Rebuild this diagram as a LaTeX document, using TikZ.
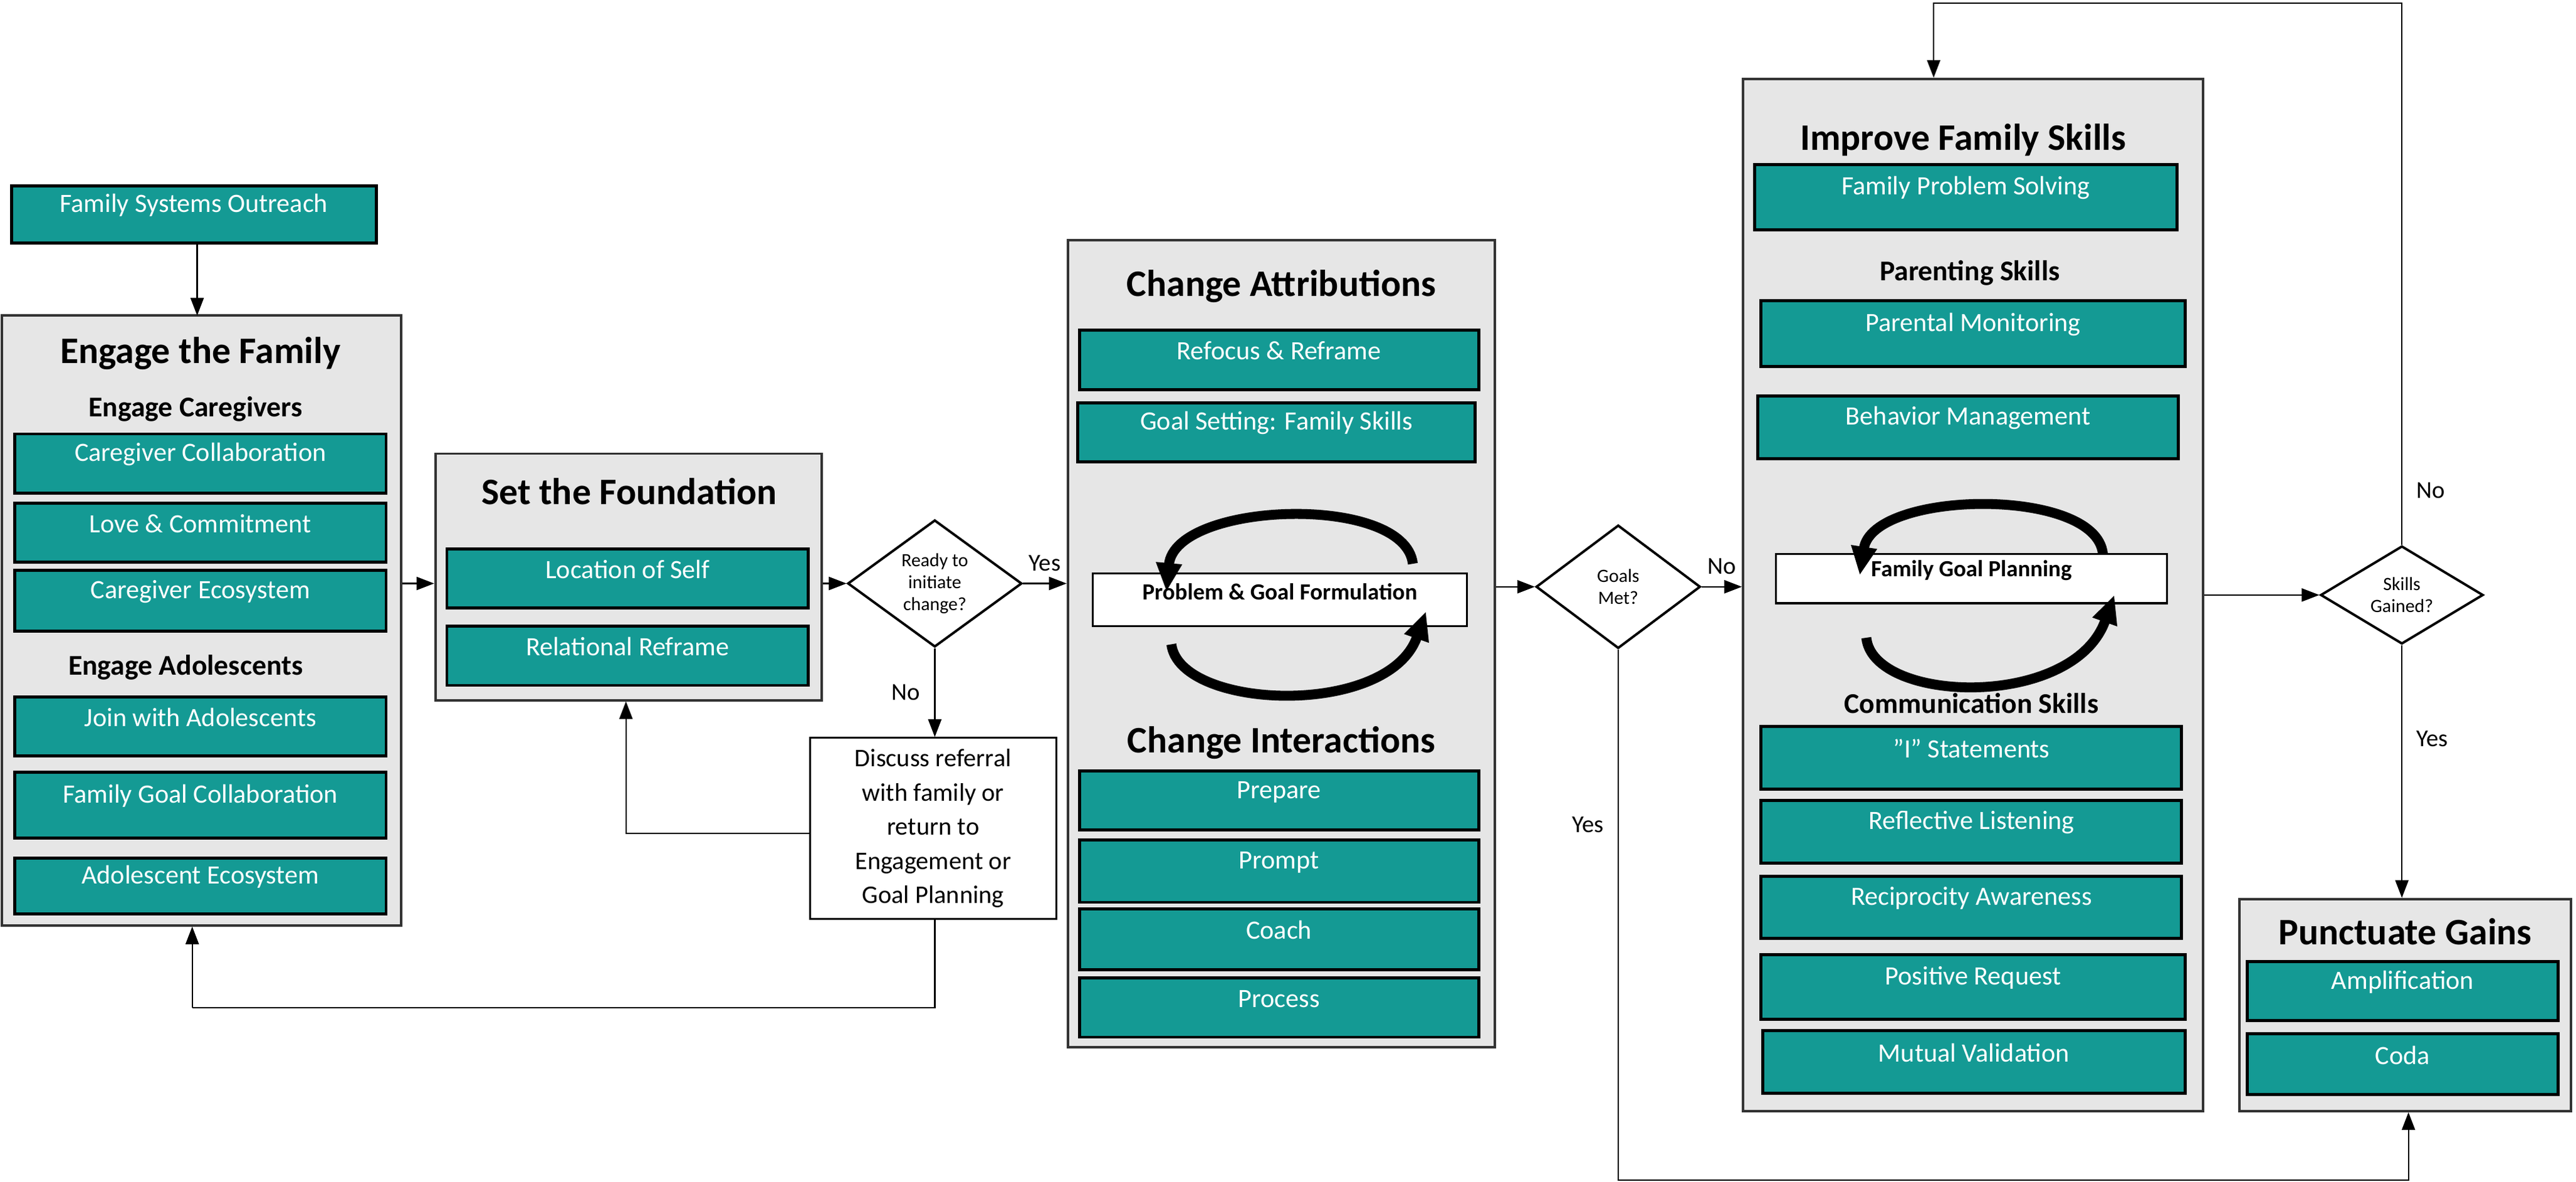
\documentclass[tikz,border=0pt]{standalone}
\usepackage{fontspec}
\setmainfont{Carlito}
\usetikzlibrary{fit,shapes.geometric,arrows.meta}
\definecolor{teal1}{HTML}{149A94}
\definecolor{grey1}{HTML}{E6E6E6}
\newcommand\mkbox[7][tb]{\coordinate (#2a) at (#3,#4); \coordinate (#2b) at (#5,#6);
  \node[#1,fit=(#2a)(#2b)] (#2) {#7};}
\begin{document}
\begin{tikzpicture}[x=0.02621cm,y=-0.02621cm,
  tb/.style={draw=black,line width=1.4pt,fill=teal1,text=white,inner sep=0pt,font=\fontsize{12}{14}\selectfont},
  gb/.style={draw=black!80,line width=1.1pt,fill=grey1,inner sep=0pt},
  wb/.style={draw=black,line width=0.9pt,fill=white,inner sep=0pt,font=\bfseries\fontsize{10.5}{12}\selectfont},
  title/.style={font=\bfseries\fontsize{17}{20}\selectfont},
  sub/.style={font=\bfseries\fontsize{13}{15}\selectfont},
  dia/.style={diamond,draw=black,line width=1.1pt,fill=white,inner sep=0pt,align=center,font=\fontsize{8.5}{10}\selectfont},
  lab/.style={font=\fontsize{11}{13}\selectfont},
  arr/.style={-{Triangle[length=8pt,width=6pt]},line width=0.6pt},
  ln/.style={line width=0.6pt},
  cyc/.style={line width=4.5pt,-{Triangle[length=13pt,width=11pt]}}]
\useasboundingbox (0,0) rectangle (1568,719);
% Outreach
\mkbox{fso}{7}{113}{229}{148}{Family Systems Outreach}
% Engage
\mkbox[gb]{eng}{1}{192}{244}{563}{}
\node[title] (engT) at (122,215) {Engage the Family};
\node[sub] (engC) at (119,249) {Engage Caregivers};
\mkbox{cc}{9}{264}{235}{300}{Caregiver Collaboration}
\mkbox{lc}{9}{306}{235}{342}{Love \& Commitment}
\mkbox{ce}{9}{347}{235}{384}{Caregiver Ecosystem}
\node[sub] (engA) at (113,406) {Engage Adolescents};
\mkbox{ja}{9}{424}{235}{460}{Join with Adolescents}
\mkbox{fgc}{9}{470}{235}{510}{Family Goal Collaboration}
\mkbox{ae}{9}{522}{235}{556}{Adolescent Ecosystem}
% Foundation
\mkbox[gb]{fnd}{265}{276}{500}{426}{}
\node[title] (fndT) at (383,299) {Set the Foundation};
\mkbox{los}{272}{334}{492}{370}{Location of Self}
\mkbox{rr}{272}{381}{492}{417}{Relational Reframe}
% Ready diamond
\node[dia,minimum width=106*0.02621cm,minimum height=74*0.02621cm] (rdy) at (569,355) {Ready to\\initiate\\change?};
% Discuss
\mkbox[wb]{dis}{493}{449}{643}{559}{}
\node[align=center,font=\fontsize{11.5}{15.5}\selectfont] at (dis.center) {Discuss referral\\with family or\\return to\\Engagement or\\Goal Planning};
% Change box
\mkbox[gb]{chg}{650}{146}{910}{637}{}
\node[title] (chgT) at (780,174) {Change Attributions};
\mkbox{rf}{657}{201}{900}{237}{Refocus \& Reframe}
\mkbox{gs}{656}{245}{898}{281}{Goal Setting: Family Skills}
\mkbox[wb]{pgf}{665}{349}{893}{381}{Problem \& Goal Formulation}
\draw[cyc] (860,343) .. controls (855,300) and (715,305) .. (710,360);
\draw[cyc] (713,392) .. controls (718,432) and (845,437) .. (868,372);
\node[title] (chgI) at (780,452) {Change Interactions};
\mkbox{pr}{657}{469}{900}{505}{Prepare}
\mkbox{pm}{657}{511}{900}{549}{Prompt}
\mkbox{co}{657}{553}{900}{590}{Coach}
\mkbox{pc}{657}{595}{900}{631}{Process}
% Goals met
\node[dia,minimum width=100*0.02621cm,minimum height=75*0.02621cm] (gm) at (985,357) {Goals\\Met?};
% Improve
\mkbox[gb]{imp}{1061}{48}{1341}{676}{}
\node[title] (impT) at (1195,85) {Improve Family Skills};
\mkbox{fps}{1068}{100}{1325}{140}{Family Problem Solving}
\node[sub] (impP) at (1199,166) {Parenting Skills};
\mkbox{pmo}{1072}{183}{1330}{223}{Parental Monitoring}
\mkbox{bm}{1070}{241}{1326}{279}{Behavior Management}
\mkbox[wb]{fgp}{1081}{337}{1319}{367}{Family Goal Planning}
\draw[cyc] (1280,337) .. controls (1276,296) and (1140,298) .. (1132,350);
\draw[cyc] (1136,388) .. controls (1140,428) and (1262,432) .. (1287,362);
\node[sub] (impC) at (1200,428) {Communication Skills};
\mkbox{is}{1072}{442}{1328}{480}{"I" Statements}
\mkbox{rl}{1072}{487}{1328}{525}{Reflective Listening}
\mkbox{ra}{1072}{533}{1328}{571}{Reciprocity Awareness}
\mkbox{prq}{1072}{581}{1330}{620}{Positive Request}
\mkbox{mv}{1073}{627}{1330}{665}{Mutual Validation}
% Skills gained
\node[dia,minimum width=99*0.02621cm,minimum height=57*0.02621cm] (sg) at (1462,362) {Skills\\Gained?};
% Punctuate
\mkbox[gb]{pun}{1363}{547}{1565}{676}{}
\node[title] (punT) at (1464,567) {Punctuate Gains};
\mkbox{amp}{1368}{585}{1557}{621}{Amplification}
\mkbox{cod}{1368}{629}{1557}{666}{Coda}
% connectors
\draw[arr] (fso.south -| 120,0) -- (120,192);
\draw[arr] (eng.east |- 0,355) -- (fnd.west |- 0,355);
\draw[arr] (fnd.east |- 0,355) -- (rdy.west);
\draw[arr] (rdy.east) -- (chg.west |- rdy.east) node[lab,midway,above=2pt] {Yes};
\draw[arr] (rdy.south) -- (dis.north -| rdy.south) node[lab,pos=0.5,left=3pt] {No};
\coordinate (d1) at (381,507);
\draw[arr] (dis.west |- d1) -- (d1) -- (fnd.south -| d1);
\coordinate (d2) at (569,613); \coordinate (d3) at (117,613);
\draw[ln] (dis.south -| d2) -- (d2) -- (d3);
\draw[arr] (d3) -- (eng.south -| d3);
\draw[arr] (chg.east |- gm.west) -- (gm.west);
\draw[arr] (gm.east) -- (imp.west |- gm.east) node[lab,midway,above=2pt] {No};
\coordinate (y1) at (985,718); \coordinate (y2) at (1466,718);
\draw[arr] (gm.south) -- (y1) node[lab,pos=0.33,left=3pt] {Yes} -- (y2) -- (pun.south -| y2);
\draw[arr] (imp.east |- sg.west) -- (sg.west);
\coordinate (n1) at (1462,2); \coordinate (n2) at (1177,2);
\draw[arr] (sg.north) -- (n1) node[lab,pos=0.1,right=3pt] {No} -- (n2) -- (imp.north -| n2);
\draw[arr] (sg.south) -- (pun.north -| sg.south) node[lab,pos=0.37,right=3pt] {Yes};
\end{tikzpicture}
\end{document}
